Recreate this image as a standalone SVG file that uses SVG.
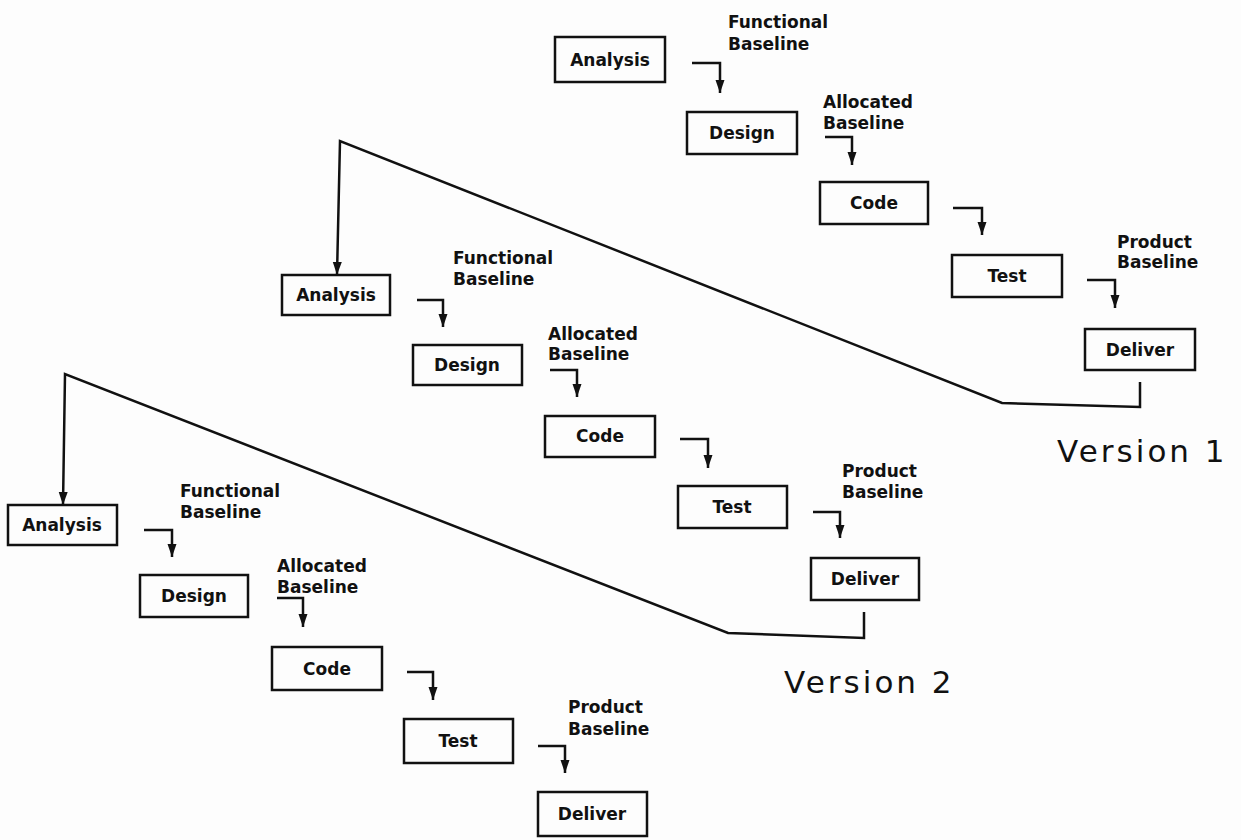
<svg xmlns="http://www.w3.org/2000/svg" width="1241" height="840" viewBox="0 0 1241 840">
<defs>
<marker id="ah" markerUnits="userSpaceOnUse" markerWidth="14" markerHeight="10" refX="13" refY="4.5" orient="auto">
<path d="M0,0 L13,4.5 L0,9 z" fill="#111"/>
</marker>
<style>
.box{fill:none;stroke:#111;stroke-width:2.5}
.bt{font-family:"DejaVu Sans",sans-serif;font-weight:bold;font-size:17px;fill:#111;text-anchor:middle}
.lb{font-family:"DejaVu Sans",sans-serif;font-weight:bold;font-size:17px;fill:#111}
.ver{font-family:"DejaVu Sans",sans-serif;font-size:31px;fill:#111;letter-spacing:3px}
.c{fill:none;stroke:#111;stroke-width:2.5;stroke-linejoin:miter}
.ca{fill:none;stroke:#111;stroke-width:2.5;marker-end:url(#ah)}
</style>
</defs>
<rect width="1241" height="840" fill="#fdfdfd"/>

<g id="connectors">
<polyline class="ca" points="692,63 720,63 720,93"/>
<polyline class="ca" points="825,137 852,137 852,165"/>
<polyline class="ca" points="953,208 982,208 982,235"/>
<polyline class="ca" points="1087,280 1115,280 1115,308"/>
<polyline class="ca" points="1140,382 1140,407 1002,403 340,141 337,275"/>

<polyline class="ca" points="417,300 443,300 443,327"/>
<polyline class="ca" points="550,370 577,370 577,397"/>
<polyline class="ca" points="680,439 708,439 708,468"/>
<polyline class="ca" points="813,512 840,512 840,538"/>
<polyline class="ca" points="864,612 864,638 728,633 65,374 63,505"/>

<polyline class="ca" points="144,530 172,530 172,557"/>
<polyline class="ca" points="277,598 303,598 303,627"/>
<polyline class="ca" points="407,672 433,672 433,700"/>
<polyline class="ca" points="538,746 565,746 565,773"/>
</g>

<g id="labels">
<text class="lb" x="728" y="28">Functional<tspan x="728" y="50">Baseline</tspan></text>
<text class="lb" x="823" y="108">Allocated<tspan x="823" y="129">Baseline</tspan></text>
<text class="lb" x="1117" y="248">Product<tspan x="1117" y="268">Baseline</tspan></text>

<text class="lb" x="453" y="264">Functional<tspan x="453" y="285">Baseline</tspan></text>
<text class="lb" x="548" y="340">Allocated<tspan x="548" y="360">Baseline</tspan></text>
<text class="lb" x="842" y="477">Product<tspan x="842" y="498">Baseline</tspan></text>

<text class="lb" x="180" y="497">Functional<tspan x="180" y="518">Baseline</tspan></text>
<text class="lb" x="277" y="572">Allocated<tspan x="277" y="593">Baseline</tspan></text>
<text class="lb" x="568" y="713">Product<tspan x="568" y="735">Baseline</tspan></text>

<text class="ver" x="1057" y="462">Version 1</text>
<text class="ver" x="784" y="693">Version 2</text>
</g>

<g id="v1-analysis"><rect class="box" x="555" y="37" width="110" height="45"/><text class="bt" x="610" y="66">Analysis</text></g>
<g id="v1-design"><rect class="box" x="687" y="112" width="110" height="42"/><text class="bt" x="742" y="139">Design</text></g>
<g id="v1-code"><rect class="box" x="820" y="182" width="108" height="42"/><text class="bt" x="874" y="209">Code</text></g>
<g id="v1-test"><rect class="box" x="952" y="255" width="110" height="42"/><text class="bt" x="1007" y="282">Test</text></g>
<g id="v1-deliver"><rect class="box" x="1085" y="329" width="110" height="41"/><text class="bt" x="1140" y="356">Deliver</text></g>

<g id="v2-analysis"><rect class="box" x="282" y="275" width="108" height="40"/><text class="bt" x="336" y="301">Analysis</text></g>
<g id="v2-design"><rect class="box" x="413" y="345" width="109" height="40"/><text class="bt" x="467" y="371">Design</text></g>
<g id="v2-code"><rect class="box" x="545" y="416" width="110" height="41"/><text class="bt" x="600" y="442">Code</text></g>
<g id="v2-test"><rect class="box" x="678" y="486" width="109" height="42"/><text class="bt" x="732" y="513">Test</text></g>
<g id="v2-deliver"><rect class="box" x="811" y="558" width="108" height="42"/><text class="bt" x="865" y="585">Deliver</text></g>

<g id="v3-analysis"><rect class="box" x="8" y="505" width="109" height="40"/><text class="bt" x="62" y="531">Analysis</text></g>
<g id="v3-design"><rect class="box" x="140" y="575" width="108" height="42"/><text class="bt" x="194" y="602">Design</text></g>
<g id="v3-code"><rect class="box" x="272" y="647" width="110" height="43"/><text class="bt" x="327" y="675">Code</text></g>
<g id="v3-test"><rect class="box" x="404" y="719" width="109" height="44"/><text class="bt" x="458" y="747">Test</text></g>
<g id="v3-deliver"><rect class="box" x="538" y="792" width="109" height="44"/><text class="bt" x="592" y="820">Deliver</text></g>
</svg>
